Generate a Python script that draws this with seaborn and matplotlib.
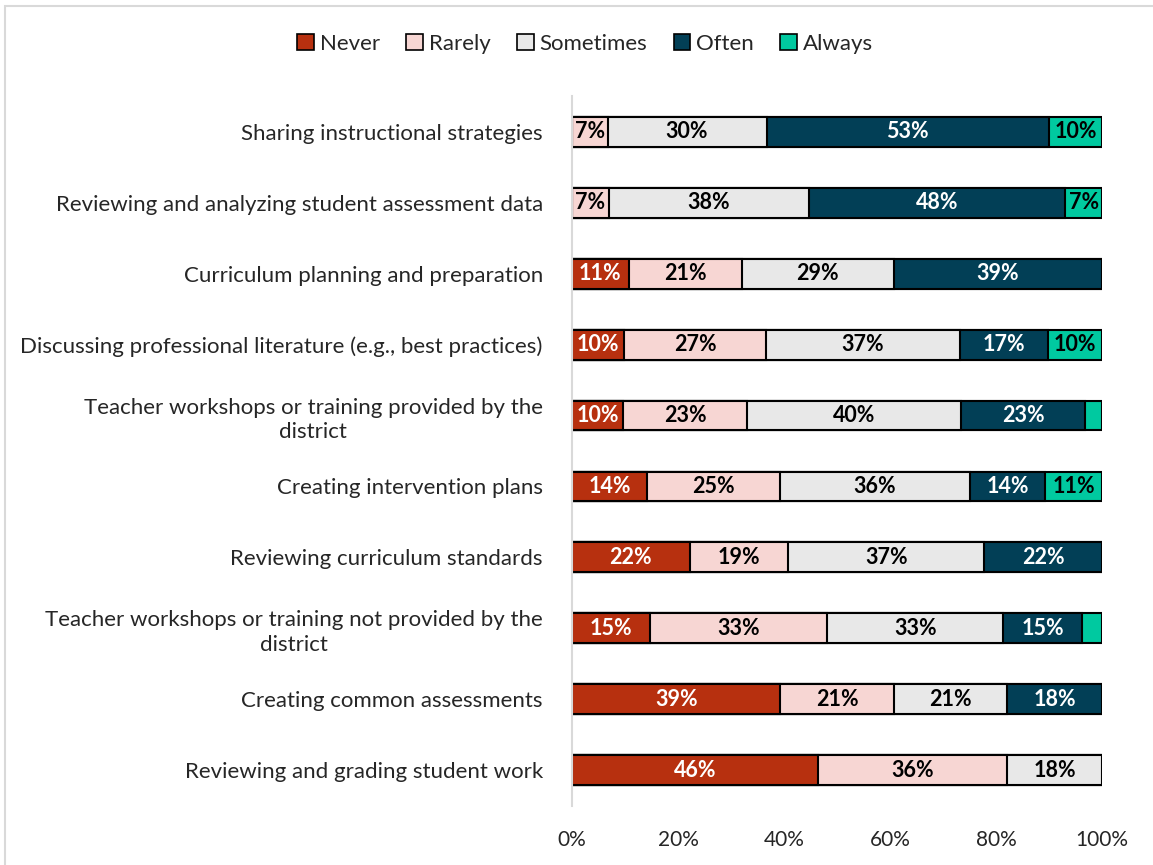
import matplotlib
matplotlib.use("Agg")
import matplotlib.pyplot as plt
import seaborn as sns
import pandas as pd
import numpy as np
from matplotlib.patches import Rectangle, Patch

categories = [
    "Sharing instructional strategies",
    "Reviewing and analyzing student assessment data",
    "Curriculum planning and preparation",
    "Discussing professional literature (e.g., best practices)",
    "Teacher workshops or training provided by the\ndistrict",
    "Creating intervention plans",
    "Reviewing curriculum standards",
    "Teacher workshops or training not provided by the\ndistrict",
    "Creating common assessments",
    "Reviewing and grading student work",
]
levels = ["Never", "Rarely", "Sometimes", "Often", "Always"]
never     = [0.0, 0.0, 10.7, 9.8, 9.7, 14.2, 22.2, 14.8, 39.3, 46.4]
rarely    = [6.7, 6.9, 21.4, 26.8, 23.4, 25.1, 18.6, 33.3, 21.4, 35.7]
sometimes = [30.0, 37.9, 28.6, 36.6, 40.3, 35.7, 37.0, 33.3, 21.4, 17.9]
often     = [53.3, 48.3, 39.3, 16.6, 23.4, 14.3, 22.2, 14.8, 17.9, 0.0]
always    = [10.0, 6.9, 0.0, 10.2, 3.2, 10.7, 0.0, 3.8, 0.0, 0.0]
xticks = [0, 20, 40, 60, 80, 100]
xticklabels = ["0%", "20%", "40%", "60%", "80%", "100%"]

colors = ["#B7300F", "#F7D6D3", "#E8E8E8", "#023F56", "#00C9A0"]
text_colors = ["white", "black", "black", "white", "black"]

sns.set_style("white")
plt.rcParams["font.family"] = ["Lato", "DejaVu Sans"]

df = pd.DataFrame({"category": categories, "Never": never, "Rarely": rarely,
                   "Sometimes": sometimes, "Often": often, "Always": always})
cum = df[levels].cumsum(axis=1)

W, H = 1153, 865
fig = plt.figure(figsize=(W / 100, H / 100), dpi=100)
ax = fig.add_axes([572 / W, 1 - 805.5 / H, 530 / W, 709 / H])

for i in range(len(levels) - 1, -1, -1):
    lev = levels[i]
    tmp = pd.DataFrame({"category": categories, "value": cum[lev].values})
    sns.barplot(data=tmp, x="value", y="category", orient="h", color=colors[i],
                saturation=1, width=0.42, edgecolor="black", linewidth=1.5,
                ax=ax, errorbar=None)

for i, lev in enumerate(levels):
    vals = df[lev].values
    ends = cum[lev].values
    for j, (v, e) in enumerate(zip(vals, ends)):
        if v >= 5:
            ax.text(e - v / 2, j, f"{v:.0f}%", ha="center", va="center",
                    color=text_colors[i], fontsize=15.5, fontweight="bold")

ax.set_xlim(0, 100)
ax.set_ylim(len(categories) - 0.5, -0.5)
ax.set_xticks(xticks)
ax.set_xticklabels(xticklabels, fontsize=15)
ax.set_xlabel("")
ax.set_ylabel("")
for s in ["top", "right", "bottom"]:
    ax.spines[s].set_visible(False)
ax.spines["left"].set_color("#D9D9D9")
ax.spines["left"].set_linewidth(1.5)
ax.tick_params(axis="y", length=0, pad=21, labelsize=16)
ax.tick_params(axis="x", length=0, pad=18)
for lab in ax.get_yticklabels():
    lab.set_multialignment("center")
    lab.set_linespacing(1.3)

handles = [Patch(facecolor=c, edgecolor="black", linewidth=1.2) for c in colors]
fig.legend(handles, levels, loc="center", bbox_to_anchor=(585 / W, 1 - 44 / H),
           ncol=5, frameon=False, fontsize=16, handlelength=0.75,
           handleheight=0.75, handletextpad=0.25, columnspacing=1.2)

fig.patches.append(Rectangle((5 / W, -0.1), 1.2, 1 - 6 / H + 0.1,
                             transform=fig.transFigure, fill=False,
                             edgecolor="#D9D9D9", linewidth=1.5))

fig.savefig("out.png", dpi=100)
